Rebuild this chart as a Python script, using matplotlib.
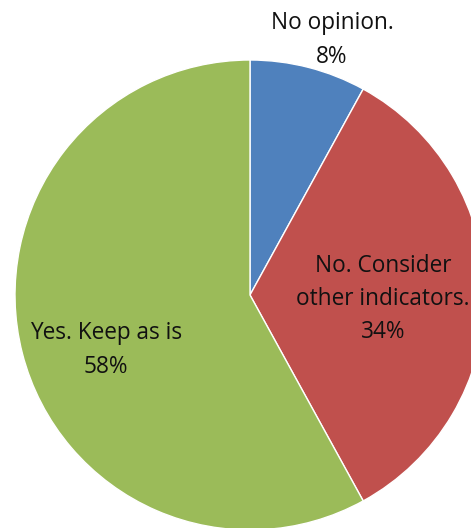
import matplotlib.pyplot as plt

# survey answer shares
labels = ['No opinion.', 'No. Consider\nother indicators.', 'Yes. Keep as is']
shares = [8, 34, 58]
colors = ['#4F81BD', '#C0504D', '#9BBB59']

plt.rcParams['font.family'] = ['Open Sans', 'DejaVu Sans']

W, H = 471, 528
fig = plt.figure(figsize=(W / 100, H / 100), dpi=100)
ax = fig.add_axes([0, 0, 1, 1])

cx, cy, r = 250, H - 295, 235
wedges, _ = ax.pie(shares, colors=colors, startangle=90, counterclock=False,
                   center=(cx, cy), radius=r, frame=True,
                   wedgeprops=dict(edgecolor='white', linewidth=1))
ax.set_xlim(0, W)
ax.set_ylim(0, H)
ax.set_aspect('equal')
ax.axis('off')

# label positions (pixels from top-left)
label_pos = [(332, 40), (383, 299), (106, 350)]
for lab, val, (x, y) in zip(labels, shares, label_pos):
    ax.text(x, H - y, f'{lab}\n{val}%', ha='center', va='center',
            fontsize=16.3, color='#111111', linespacing=1.52)

fig.savefig('out.png', dpi=100)
